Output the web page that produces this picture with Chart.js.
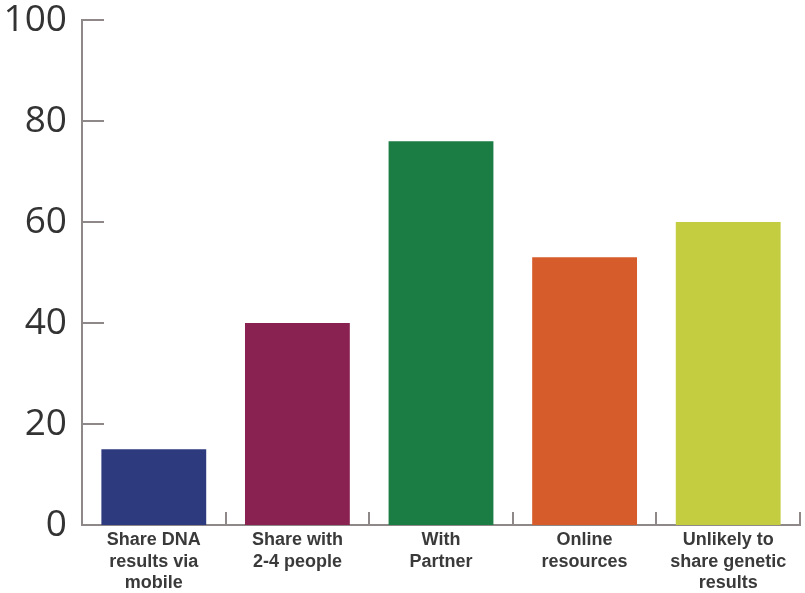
<!DOCTYPE html>
<html>
<head>
<meta charset="utf-8">
<script src="https://cdn.jsdelivr.net/npm/chart.js@4.4.1/dist/chart.umd.min.js"></script>
<style>
  html, body { margin: 0; padding: 0; background: #fff; }
  #wrap { width: 805px; height: 593px; }
</style>
</head>
<body>
<div id="wrap"><canvas id="shareChart" width="805" height="593"></canvas></div>
<script>
// categories + values
var categories = [
    ["Share DNA", "results via", "mobile"],
    ["Share with", "2-4 people"],
    ["With", "Partner"],
    ["Online", "resources"],
    ["Unlikely to", "share genetic", "results"]
];
var percentValues = [15, 40, 76, 53, 60];
var yTicks = [0, 20, 40, 60, 80, 100];
var barColors = ["#2e3a7e", "#8a2251", "#1b7d43", "#d65c2c", "#c3cd3f"];

var axisGray = "#8f8888";

// little inward tick marks like the original
var innerTicks = {
    id: 'innerTicks',
    afterDraw: function(chart) {
        var ctx = chart.ctx;
        var x = chart.scales.x;
        var y = chart.scales.y;
        var area = chart.chartArea;
        ctx.save();
        ctx.strokeStyle = axisGray;
        ctx.lineWidth = 2;
        ctx.beginPath();
        yTicks.forEach(function(v) {
            if (v === 0) return;
            var py = Math.round(y.getPixelForValue(v));
            ctx.moveTo(area.left, py);
            ctx.lineTo(area.left + 22, py);
        });
        for (var i = 0; i < categories.length; i++) {
            var px = Math.round(x.getPixelForValue(i + 0.5));
            ctx.moveTo(px, area.bottom);
            ctx.lineTo(px, area.bottom - 13);
        }
        ctx.stroke();
        ctx.restore();
    }
};

var ctx = document.getElementById("shareChart");
var myChart = new Chart(ctx, {
    type: 'bar',
    data: {
        labels: categories,
        datasets: [{
            data: percentValues,
            backgroundColor: barColors,
            borderWidth: 0,
            barPercentage: 0.73,
            categoryPercentage: 1.0
        }]
    },
    options: {
        responsive: false,
        animation: false,
        layout: { padding: { top: 0, right: 5, bottom: 0, left: 0 } },
        plugins: {
            legend: { display: false },
            tooltip: { enabled: false }
        },
        scales: {
            x: {
                grid: { display: false, drawTicks: false },
                border: { display: true, color: axisGray, width: 2 },
                ticks: {
                    color: "#3a3a3a",
                    padding: 5,
                    maxRotation: 0,
                    autoSkip: false,
                    font: { family: "'Liberation Sans', Arial, sans-serif", size: 18, weight: 'bold', lineHeight: 1.17 }
                },
                afterFit: function(scale) { scale.height = 68; }
            },
            y: {
                min: 0,
                max: 100,
                afterBuildTicks: function(scale) {
                    scale.ticks = yTicks.map(function(v) { return { value: v }; });
                },
                grid: { display: false, drawTicks: false },
                border: { display: true, color: axisGray, width: 2 },
                ticks: {
                    color: "#333",
                    padding: 15,
                    font: { family: "'Open Sans', sans-serif", size: 37, lineHeight: 1.08 }
                },
                afterFit: function(scale) {
                    scale.width = 82;
                    scale.paddingTop = 20;
                    scale.paddingBottom = 0;
                }
            }
        }
    },
    plugins: [innerTicks]
});
</script>
</body>
</html>
